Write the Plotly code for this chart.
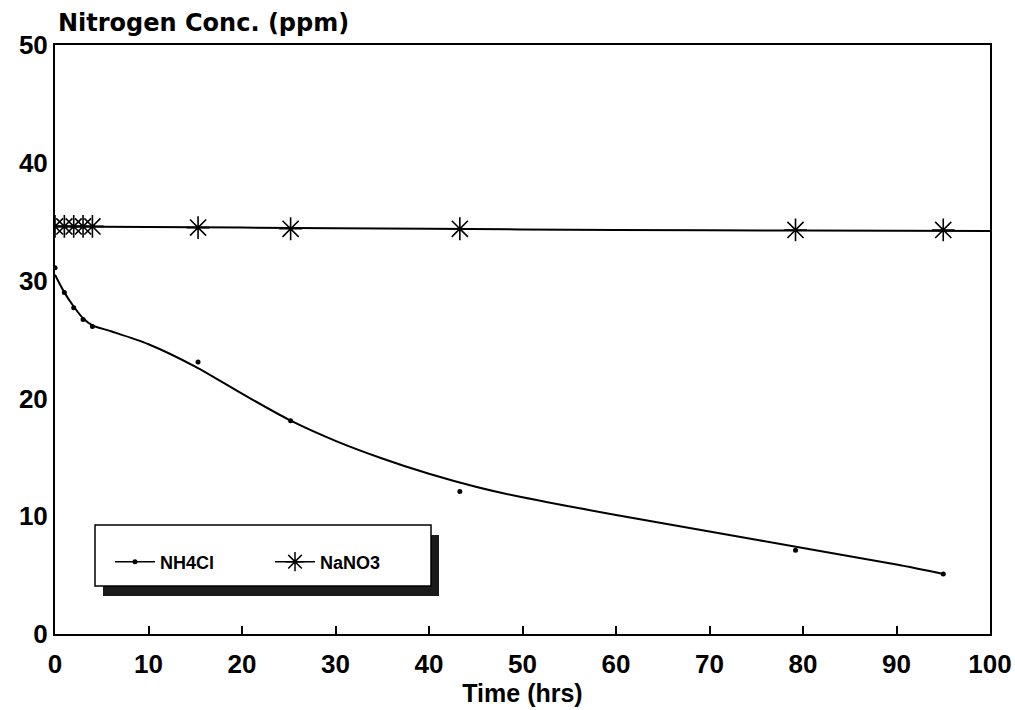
import plotly.graph_objects as go

# Measured data
time_nh4cl = [0, 1, 2, 3, 4, 15.3, 25.2, 43.3, 79.2, 95.0]
conc_nh4cl = [31.1, 29.0, 27.7, 26.7, 26.1, 23.1, 18.1, 12.1, 7.1, 5.1]

time_nano3 = [0, 1, 2, 3, 4, 15.3, 25.2, 43.3, 79.2, 95.0]
conc_nano3 = [34.6, 34.6, 34.6, 34.6, 34.6, 34.5, 34.4, 34.4, 34.3, 34.3]

# Fitted curves as drawn on the chart
fit_time_nh4cl = [0, 1, 2, 3, 4, 6, 10, 15, 20, 25, 30, 35, 40, 45, 50, 60, 70, 80, 90, 95]
fit_conc_nh4cl = [30.5, 29.0, 27.8, 26.8, 26.2, 25.7, 24.6, 22.7, 20.4, 18.2, 16.4, 14.9, 13.6, 12.5, 11.6, 10.1, 8.7, 7.3, 5.9, 5.1]

fit_time_nano3 = [0, 20, 40, 60, 80, 100]
fit_conc_nano3 = [34.6, 34.5, 34.4, 34.3, 34.25, 34.2]

x_ticks = [0, 10, 20, 30, 40, 50, 60, 70, 80, 90, 100]
y_ticks = [0, 10, 20, 30, 40, 50]

FONT = "Liberation Sans"
TITLE_FONT = "DejaVu Sans"

fig = go.Figure()

fig.add_trace(go.Scatter(x=fit_time_nh4cl, y=fit_conc_nh4cl, mode="lines",
                         line=dict(color="black", width=2, shape="spline", smoothing=0.8),
                         showlegend=False, hoverinfo="skip"))
fig.add_trace(go.Scatter(x=fit_time_nano3, y=fit_conc_nano3, mode="lines",
                         line=dict(color="black", width=2, shape="spline"),
                         showlegend=False, hoverinfo="skip"))
fig.add_trace(go.Scatter(x=time_nh4cl, y=conc_nh4cl, mode="markers",
                         marker=dict(symbol="circle", size=5, color="black"),
                         showlegend=False, name="NH4Cl"))
fig.add_trace(go.Scatter(x=time_nano3, y=conc_nano3, mode="markers",
                         marker=dict(symbol="asterisk-open", size=19, color="black",
                                     line=dict(color="black", width=1.6)),
                         showlegend=False, name="NaNO3"))

# legend entries
fig.add_trace(go.Scatter(x=[None], y=[None], mode="lines+markers", name="NH4Cl",
                         line=dict(color="black", width=1.5),
                         marker=dict(symbol="circle", size=5, color="black")))
fig.add_trace(go.Scatter(x=[None], y=[None], mode="lines+markers", name="NaNO3",
                         line=dict(color="black", width=1.5),
                         marker=dict(symbol="asterisk-open", size=16, color="black",
                                     line=dict(color="black", width=1.5))))

L, R, T, B = 55, 25, 45, 76
W, H = 1015, 710
pw, ph = W - L - R, H - T - B

def px(xp):
    return (xp - L) / pw

def py(yp):
    return (H - B - yp) / ph

shapes = [
    # legend shadow
    dict(type="rect", xref="paper", yref="paper",
         x0=px(103), x1=px(439), y0=py(596), y1=py(535),
         fillcolor="#1a1a1a", line=dict(width=0), layer="above"),
    # legend box
    dict(type="rect", xref="paper", yref="paper",
         x0=px(95), x1=px(431), y0=py(586), y1=py(525),
         fillcolor="white", line=dict(color="black", width=1.5), layer="above"),
]

fig.update_layout(
    width=W, height=H,
    margin=dict(l=L, r=R, t=T, b=B, autoexpand=False),
    paper_bgcolor="white", plot_bgcolor="white",
    font=dict(family=FONT, color="black", size=24, weight="bold"),
    shapes=shapes,
    showlegend=True,
    legend=dict(orientation="h", x=px(110), y=py(562), yanchor="middle", xanchor="left",
                bgcolor="rgba(0,0,0,0)", borderwidth=0,
                font=dict(family=FONT, size=18, weight="bold", color="black"),
                itemwidth=40, entrywidth=105, entrywidthmode="pixels"),
    xaxis=dict(range=[0, 100], tickvals=x_ticks, ticks="inside", ticklen=8,
               tickwidth=1.5, tickcolor="black", automargin=False,
               ticklabelstandoff=6,
               showline=True, linecolor="black", linewidth=2, mirror=True,
               showgrid=False, zeroline=False,
               tickfont=dict(family=FONT, size=26, weight="bold"),
               title=dict(text="Time (hrs)", standoff=0,
                          font=dict(family=FONT, size=25, weight="bold"))),
    yaxis=dict(range=[0, 50], tickvals=y_ticks, ticks="", automargin=False,
               showline=True, linecolor="black", linewidth=2, mirror=True,
               showgrid=False, zeroline=False,
               tickfont=dict(family=FONT, size=26, weight="bold")),
    annotations=[dict(text="Nitrogen Conc. (ppm)", xref="paper", yref="paper",
                      x=px(56), y=py(23), xanchor="left", yanchor="middle",
                      showarrow=False,
                      font=dict(family=TITLE_FONT, size=24, weight="bold"))],
)

fig.write_html("out.html")
